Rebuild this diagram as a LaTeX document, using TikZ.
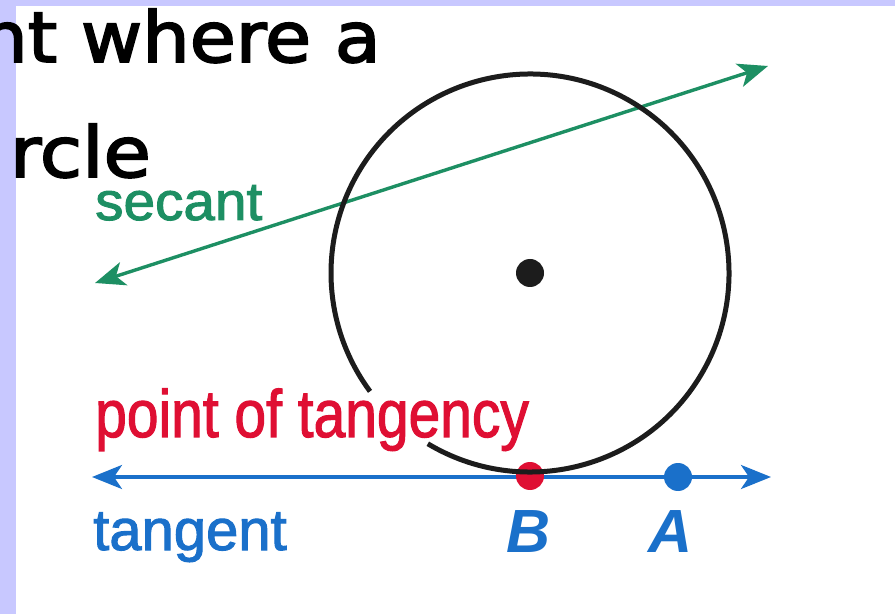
\documentclass[tikz,border=0pt]{standalone}
\usepackage{graphicx}
\usepackage{fontspec}
\setmainfont{Liberation Sans}
\newfontfamily\lblfont[FakeBold=1.8]{Liberation Sans}
\newfontfamily\handfont[FakeBold=2.5]{DejaVu Sans}
\usetikzlibrary{arrows.meta}
\definecolor{secgreen}{HTML}{1D8F63}
\definecolor{tanblue}{HTML}{1A70CA}
\definecolor{ptred}{HTML}{DF0F33}
\definecolor{circblack}{HTML}{1C1C1C}
\definecolor{lavender}{HTML}{C8C8FF}
\begin{document}
\begin{tikzpicture}[x=1pt,y=1pt,
  lbl/.style={inner sep=0pt, anchor=base west},
  dotmark/.style={circle, inner sep=0pt, minimum size=28pt},
  arrowline/.style={line width=3.4pt,
    {Stealth[length=30pt,width=24pt,inset=8pt]}-{Stealth[length=30pt,width=24pt,inset=8pt]}}
]
\clip (0,0) rectangle (895,614);
\fill[white] (0,0) rectangle (895,614);
\fill[lavender] (0,0) rectangle (16,614);
\fill[lavender] (0,608) rectangle (895,614);

% top handwritten text
\node[inner sep=0pt, anchor=base east] (line1) at (381,552) {\scalebox{1.07}[1]{\handfont\fontsize{70}{70}\selectfont nt where a}};
\node[inner sep=0pt, anchor=base east] (line2) at (151,437) {\scalebox{1.1}[1]{\handfont\fontsize{70}{70}\selectfont rcle}};

% secant
\coordinate (s1) at (95,331);
\coordinate (s2) at (768,548);
\draw[arrowline, secgreen] (s1) -- (s2);

% tangent
\coordinate (t1) at (92,137);
\coordinate (t2) at (771,137);
\draw[arrowline, tanblue] (t1) -- (t2);
\node[dotmark, fill=ptred] (Bdot) at (530,138) {};
\node[dotmark, fill=tanblue] (Adot) at (678,137) {};

% circle with gap
\coordinate (O) at (530,341);
\draw[circblack, line width=5pt] ([shift={(239.1:199pt)}]O) arc[start angle=239.1, end angle=576.5, radius=199pt];
\node[dotmark, fill=circblack] (center) at (O) {};

% labels
\node[lbl, text=secgreen] (secant) at (95,394) {\scalebox{1.05}[1]{\lblfont\fontsize{54}{54}\selectfont secant}};
\node[lbl, text=ptred] (pot) at (95,177) {\scalebox{0.85}[1]{\lblfont\fontsize{67}{67}\selectfont point of tangency}};
\node[lbl, text=tanblue] (tan) at (93,64) {\scalebox{1.0}[1]{\lblfont\fontsize{58}{58}\selectfont tangent}};
\node[inner sep=0pt, anchor=base, text=tanblue] (B) at (529,62) {\fontsize{61}{61}\selectfont\bfseries\itshape B};
\node[inner sep=0pt, anchor=base, text=tanblue] (A) at (671,62) {\fontsize{61}{61}\selectfont\bfseries\itshape A};
\end{tikzpicture}
\end{document}
